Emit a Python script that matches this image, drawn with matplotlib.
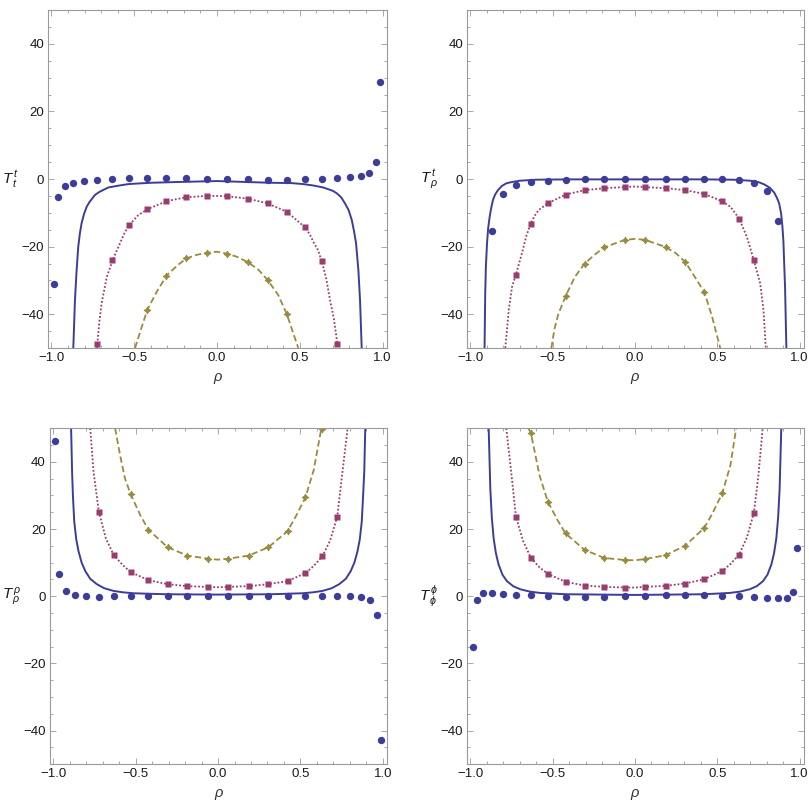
import numpy as np
import matplotlib
matplotlib.use('Agg')
import matplotlib.pyplot as plt
from matplotlib.ticker import MultipleLocator, FuncFormatter

plt.rcParams['font.family'] = ['Liberation Sans', 'DejaVu Sans']
plt.rcParams['mathtext.fontset'] = 'custom'
plt.rcParams['mathtext.rm'] = 'Liberation Sans'
plt.rcParams['mathtext.it'] = 'Liberation Sans:italic'

nan = np.nan
BLUE = '#3d3d99'
MAGENTA = '#993d71'
OLIVE = '#998b3d'

# sample points (rho) shared by all numerical series
rho = [-0.986, -0.962, -0.921, -0.868, -0.803, -0.723, -0.633, -0.53, -0.422, -0.306, -0.186, -0.062,
       0.062, 0.186, 0.306, 0.422, 0.53, 0.633, 0.723, 0.803, 0.868, 0.921, 0.962, 0.986]

# ---- panel 1 : T^t_t
tt_dots = [-31.1, -5.4, -2.0, -1.1, -0.6, -0.2, 0.0, 0.2, 0.2, 0.2, 0.2, 0.1,
           0.0, -0.1, -0.3, -0.2, -0.1, 0.1, 0.2, 0.5, 0.9, 1.7, 4.9, 28.7]
tt_sq = [nan]*5 + [-48.9, -23.9, -13.5, -8.9, -6.4, -5.4, -5.0, -5.1, -5.9, -7.2, -9.7, -14.2, -24.3, -48.7] + [nan]*5
tt_dia = [nan]*8 + [-38.7, -28.7, -23.5, -21.8, -22.1, -24.6, -29.9, -40.0] + [nan]*8
tt_blue_x = [-0.868, -0.858, -0.848, -0.838, -0.828, -0.818, -0.803, -0.787, -0.77, -0.737, -0.71, -0.657,
             -0.6, -0.536, -0.47, -0.395, -0.254, 0.0,
             0.32, 0.45, 0.521, 0.58, 0.642, 0.70, 0.723, 0.75, 0.773, 0.795, 0.814, 0.828, 0.84, 0.854, 0.864, 0.874]
tt_blue_y = [-50, -35.9, -27, -20, -16, -13.1, -10.3, -8.2, -6.8, -4.7, -3.8, -2.5,
             -2.0, -1.5, -1.3, -1.1, -0.9, -0.6,
             -1.1, -1.2, -1.5, -1.9, -2.5, -3.5, -4.2, -5.4, -7.2, -9.2, -12.1, -15.5, -19, -27, -35.9, -50]
tt_mag_x = [-0.725, -0.71, -0.697, -0.666, -0.63, -0.586, -0.56, -0.53, -0.476, -0.419, -0.302, -0.186, -0.062, 0.0,
            0.062, 0.186, 0.306, 0.422, 0.53, 0.56, 0.582, 0.61, 0.633, 0.66, 0.683, 0.705, 0.727, 0.73]
tt_mag_y = [-50, -42, -36.8, -29, -24, -19, -16.1, -13.6, -10.7, -8.9, -6.5, -5.4, -5.0, -5.0,
            -5.1, -5.8, -7.2, -9.7, -14.2, -16.3, -18.6, -21.0, -24.3, -29.5, -35.9, -41, -48.7, -50]
tt_oli_x = [-0.495, -0.455, -0.419, -0.36, -0.302, -0.24, -0.186, -0.12, -0.062, 0.0,
            0.062, 0.12, 0.186, 0.25, 0.306, 0.37, 0.422, 0.461, 0.491]
tt_oli_y = [-50, -43.8, -38.5, -33.0, -28.4, -25.6, -23.5, -22.4, -21.8, -21.5,
            -22.1, -23.0, -24.6, -26.8, -29.9, -34.3, -40.0, -45.7, -50]

# ---- panel 2 : T^t_rho
tr_dots = [nan]*3 + [-15.3, -4.4, -1.8, -0.8, -0.5, -0.2, 0, 0, 0, 0,
                     0, 0, 0, -0.1, -0.4, -1.3, -3.5, -12.4] + [nan]*3
tr_sq = [nan]*5 + [-28.3, -13.2, -7.2, -4.6, -3.3, -2.7, -2.4, -2.4, -2.7, -3.3, -4.4, -6.6, -11.7, -24.1] + [nan]*5
tr_dia = [nan]*8 + [-34.7, -25.0, -20.2, -18.0, -18.0, -20.1, -24.6, -33.5] + [nan]*8
tr_blue_x = [-0.914, -0.91, -0.906, -0.899, -0.892, -0.883, -0.873, -0.863, -0.85, -0.833, -0.81, -0.783, -0.75,
             -0.70, -0.6, -0.4, 0.0, 0.4, 0.6, 0.70, 0.75, 0.786, 0.82, 0.846, 0.863, 0.876, 0.888, 0.896,
             0.902, 0.906, 0.912, 0.915, 0.92]
tr_blue_y = [-50, -33.9, -26, -19, -14.5, -11.2, -8.4, -6.2, -4.6, -3.3, -2.1, -1.3, -0.9,
             -0.5, -0.2, -0.1, -0.1, -0.1, -0.2, -0.5, -0.9, -1.6, -2.6, -4.0, -5.6, -7.2, -10.2, -14.1,
             -18.5, -24, -32, -38.8, -50]
tr_mag_x = [-0.788, -0.767, -0.747, -0.723, -0.687, -0.66, -0.633, -0.61, -0.586, -0.53, -0.422, -0.306, -0.186,
            -0.062, 0.0, 0.062, 0.186, 0.306, 0.422, 0.53, 0.58, 0.633, 0.68, 0.723, 0.761, 0.781, 0.795]
tr_mag_y = [-50, -38.8, -31.9, -28.2, -22, -16.8, -13.1, -10.9, -9.2, -7.2, -4.6, -3.3, -2.7,
            -2.4, -2.2, -2.4, -2.7, -3.3, -4.4, -6.6, -8.2, -11.7, -17.1, -24.1, -30.9, -38.8, -50]
tr_oli_x = [-0.508, -0.49, -0.466, -0.422, -0.366, -0.306, -0.24, -0.186, -0.062, 0.0,
            0.062, 0.186, 0.25, 0.306, 0.35, 0.422, 0.469, 0.518]
tr_oli_y = [-50, -44.5, -40.0, -34.7, -29, -25.0, -22.2, -20.2, -18.0, -17.7,
            -18.0, -20.1, -22.0, -24.6, -27.9, -33.5, -40.8, -50]

# ---- panel 3 : T^rho_rho
rr_dots = [46.2, 6.7, 1.6, 0.3, 0.0, -0.1, 0.0, 0.0, 0.0, 0.1, 0.1, 0.1,
           0.1, 0.1, 0.1, 0.1, 0.1, 0.1, 0.1, 0.1, -0.1, -1.1, -5.7, -42.7]
rr_sq = [nan]*5 + [25.2, 12.3, 7.2, 4.8, 3.6, 3.0, 2.8, 2.8, 3.0, 3.6, 4.5, 6.9, 11.9, 23.7] + [nan]*5
rr_dia = [nan]*7 + [30.4, 19.8, 14.6, 12.1, 11.2, 11.2, 12.1, 14.6, 19.4, 29.4, 49.8] + [nan]*6
rr_blue_x = [-0.891, -0.885, -0.88, -0.872, -0.86, -0.846, -0.827, -0.805, -0.775, -0.735, -0.69, -0.634,
             -0.58, -0.513, -0.42, -0.312, 0.0,
             0.312, 0.42, 0.513, 0.58, 0.634, 0.69, 0.735, 0.775, 0.805, 0.827, 0.846, 0.86, 0.872, 0.88, 0.887, 0.893]
rr_blue_y = [50, 37.1, 30, 22.3, 17, 13.4, 10, 7.5, 5.2, 3.6, 2.4, 1.6,
             1.2, 0.9, 0.75, 0.6, 0.5,
             0.6, 0.75, 0.9, 1.2, 1.6, 2.4, 3.6, 5.2, 7.5, 10, 13.4, 17, 22.3, 30, 37.1, 50]
rr_mag_x = [-0.775, -0.755, -0.723, -0.68, -0.633, -0.58, -0.53, -0.422, -0.306, -0.186, -0.062, 0.0,
            0.062, 0.186, 0.306, 0.422, 0.53, 0.58, 0.633, 0.68, 0.723, 0.755, 0.786]
rr_mag_y = [50, 37.1, 25.2, 17.2, 12.3, 9.4, 7.2, 4.8, 3.6, 3.0, 2.8, 2.7,
            2.8, 3.0, 3.6, 4.5, 6.9, 9.0, 11.9, 16.6, 23.7, 37.1, 50]
rr_oli_x = [-0.624, -0.594, -0.564, -0.53, -0.47, -0.422, -0.306, -0.186, -0.062, 0.0,
            0.062, 0.186, 0.306, 0.422, 0.47, 0.53, 0.58, 0.627]
rr_oli_y = [50, 42, 35, 30.4, 24.0, 19.8, 14.6, 12.1, 11.2, 10.9,
            11.2, 12.1, 14.6, 19.4, 23.6, 29.4, 37.5, 50]

# ---- panel 4 : T^phi_phi
pp_dots = [-15.2, -1.2, 0.9, 1.0, 0.8, 0.5, 0.3, 0.1, -0.1, -0.1, -0.1, 0.0,
           0.1, 0.3, 0.3, 0.3, 0.2, 0.0, -0.2, -0.4, -0.5, -0.4, 1.3, 14.4]
pp_sq = [nan]*5 + [23.6, 11.5, 6.7, 4.3, 3.2, 2.8, 2.6, 2.8, 3.1, 3.8, 5.1, 7.5, 12.4, 24.9] + [nan]*5
pp_dia = [nan]*6 + [48.7, 28.2, 18.7, 13.8, 11.4, 10.8, 11.1, 12.2, 15.1, 20.4, 30.6] + [nan]*7
pp_blue_x = [-0.889, -0.879, -0.87, -0.859, -0.845, -0.829, -0.805, -0.778, -0.74, -0.698, -0.64, -0.577,
             -0.5, -0.416, 0.0,
             0.416, 0.5, 0.577, 0.64, 0.698, 0.74, 0.778, 0.805, 0.829, 0.845, 0.859, 0.87, 0.879, 0.889]
pp_blue_y = [50, 32, 23.5, 17.3, 12.8, 9.5, 6.4, 4.5, 3.0, 2.1, 1.4, 1.0,
             0.8, 0.6, 0.4,
             0.6, 0.8, 1.0, 1.4, 2.1, 3.0, 4.5, 6.4, 9.5, 12.8, 17.3, 23.5, 32, 50]
pp_mag_x = [-0.782, -0.75, -0.723, -0.68, -0.633, -0.58, -0.53, -0.422, -0.306, -0.186, -0.062, 0.0,
            0.062, 0.186, 0.306, 0.422, 0.53, 0.58, 0.633, 0.68, 0.723, 0.75, 0.776]
pp_mag_y = [50, 36, 23.6, 16.5, 11.5, 8.6, 6.7, 4.3, 3.2, 2.8, 2.6, 2.6,
            2.8, 3.1, 3.8, 5.1, 7.5, 9.6, 12.4, 17.5, 24.9, 36, 50]
pp_oli_x = [-0.648, -0.633, -0.58, -0.53, -0.47, -0.422, -0.306, -0.186, -0.062, 0.0,
            0.062, 0.186, 0.306, 0.422, 0.47, 0.53, 0.58, 0.615]
pp_oli_y = [50, 48.7, 36, 28.2, 22.6, 18.7, 13.8, 11.4, 10.8, 10.7,
            11.1, 12.2, 15.1, 20.4, 24.6, 30.6, 39, 50]

panels = [
    (r'$T^{\,t}_{\,t}$', tt_dots, tt_sq, tt_dia, (tt_blue_x, tt_blue_y), (tt_mag_x, tt_mag_y), (tt_oli_x, tt_oli_y)),
    (r'$T^{\,t}_{\,\rho}$', tr_dots, tr_sq, tr_dia, (tr_blue_x, tr_blue_y), (tr_mag_x, tr_mag_y), (tr_oli_x, tr_oli_y)),
    (r'$T^{\,\rho}_{\,\rho}$', rr_dots, rr_sq, rr_dia, (rr_blue_x, rr_blue_y), (rr_mag_x, rr_mag_y), (rr_oli_x, rr_oli_y)),
    (r'$T^{\,\phi}_{\,\phi}$', pp_dots, pp_sq, pp_dia, (pp_blue_x, pp_blue_y), (pp_mag_x, pp_mag_y), (pp_oli_x, pp_oli_y)),
]

# axes rectangles in figure fractions (809 px square)
boxes = [[0.0597, 0.5698, 0.4187, 0.4178],
         [0.5776, 0.5698, 0.4162, 0.4178],
         [0.0618, 0.0553, 0.4170, 0.4153],
         [0.5776, 0.0553, 0.4162, 0.4153]]

fig = plt.figure(figsize=(8.09, 8.09), dpi=100)
star = (4, 1, 0)

for box, (lab, dots, sq, dia, bl, mg, ol) in zip(boxes, panels):
    ax = fig.add_axes(box)
    ax.plot(bl[0], bl[1], color=BLUE, lw=1.4, solid_joinstyle='round')
    ax.plot(mg[0], mg[1], color=MAGENTA, lw=1.3, linestyle=(0, (1, 1.1)))
    ax.plot(ol[0], ol[1], color=OLIVE, lw=1.3, linestyle=(0, (3.5, 1.8)))
    ax.plot(rho, dots, 'o', color=BLUE, ms=5.3, mec='none')
    ax.plot(rho, sq, 's', color=MAGENTA, ms=4, mec='none')
    ax.plot(rho, dia, marker=star, ls='none', color=OLIVE, ms=5, mec=OLIVE, mew=0.6)

    ax.set_xlim(-1.019, 1.027)
    ax.set_ylim(-50, 50)
    ax.xaxis.set_major_locator(MultipleLocator(0.5))
    ax.xaxis.set_minor_locator(MultipleLocator(0.1))
    ax.yaxis.set_major_locator(MultipleLocator(20))
    ax.yaxis.set_minor_locator(MultipleLocator(5))
    ax.xaxis.set_major_formatter(FuncFormatter(lambda v, p: ('%.1f' % v).replace('-', '\u2212')))
    ax.yaxis.set_major_formatter(FuncFormatter(lambda v, p: ('%d' % round(v)).replace('-', '\u2212')))
    ax.tick_params(which='both', direction='in', top=True, right=True, color='#9a9a9a',
                   labelsize=9.5, labelcolor='#1a1a1a', width=0.6, pad=3)
    ax.tick_params(which='major', length=4.5)
    ax.tick_params(which='minor', length=2.5)
    for s in ax.spines.values():
        s.set_color('#9a9a9a')
        s.set_linewidth(0.8)

    ax.set_xlabel(r'$\rho$', fontsize=10.5, color='#333333', labelpad=5)
    ax.set_ylabel(lab, fontsize=11, rotation=0, ha='right', va='center', color='#1a1a1a')
    ax.yaxis.set_label_coords(-0.085, 0.5)

fig.savefig('out.png', dpi=100)
